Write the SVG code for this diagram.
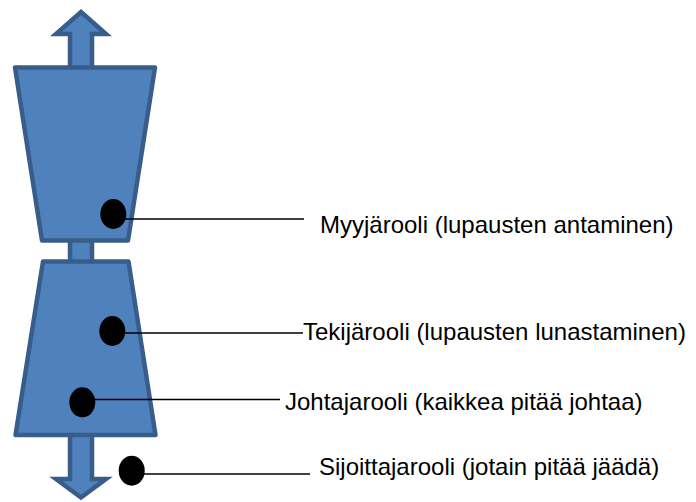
<svg xmlns="http://www.w3.org/2000/svg" width="696" height="502" viewBox="0 0 696 502">
  <style>
    .shape { fill: #4F81BD; stroke: #385D8A; stroke-width: 4.5; }
    .arrow { stroke-linejoin: miter; }
    .trap { stroke-linejoin: round; }
    .dot { fill: #000; }
    .lead { stroke: #000; stroke-width: 1.6; fill: none; }
    .label { font-family: "Liberation Sans", Arial, sans-serif; font-size: 24px; fill: #000; }
  </style>
  <rect width="696" height="502" fill="#fff"/>

  <!-- hourglass body -->
  <g id="body">
    <path id="arrow-up" class="shape arrow" d="M81,12 L106,34 L92,34 L92,68 L70,68 L70,34 L56,34 Z"/>
    <path id="arrow-down" class="shape arrow" d="M70,434 L92,434 L92,479 L106,479 L81,497.5 L56,479 L70,479 Z"/>
    <rect id="neck" class="shape" x="70" y="238" width="22" height="26"/>
    <path id="upper-bowl" class="shape trap" d="M15,67.5 L155,67.5 L128,240.5 L42,240.5 Z"/>
    <path id="lower-bowl" class="shape trap" d="M43,261.5 L128.5,261.5 L155.5,435 L15.5,435 Z"/>
  </g>

  <!-- leader lines from role markers to their labels -->
  <g id="connectors">
    <line class="lead" x1="120" y1="219" x2="304" y2="219"/>
    <line class="lead" x1="120" y1="333" x2="303" y2="333"/>
    <line class="lead" x1="90" y1="399.5" x2="280" y2="399.5"/>
    <line class="lead" x1="140" y1="474" x2="310" y2="474"/>
  </g>

  <g id="role-seller">
    <ellipse class="dot" cx="113.3" cy="214" rx="13" ry="15"/>
    <text class="label" x="320" y="232.5">Myyjärooli (lupausten antaminen)</text>
  </g>
  <g id="role-doer">
    <ellipse class="dot" cx="112.3" cy="331" rx="13" ry="15"/>
    <text class="label" x="303" y="340">Tekijärooli (lupausten lunastaminen)</text>
  </g>
  <g id="role-leader">
    <ellipse class="dot" cx="82.3" cy="402.3" rx="13" ry="15"/>
    <text class="label" x="285" y="410">Johtajarooli (kaikkea pitää johtaa)</text>
  </g>
  <g id="role-investor">
    <ellipse class="dot" cx="131.7" cy="470.7" rx="13" ry="15"/>
    <text class="label" x="319" y="475">Sijoittajarooli (jotain pitää jäädä)</text>
  </g>
</svg>
